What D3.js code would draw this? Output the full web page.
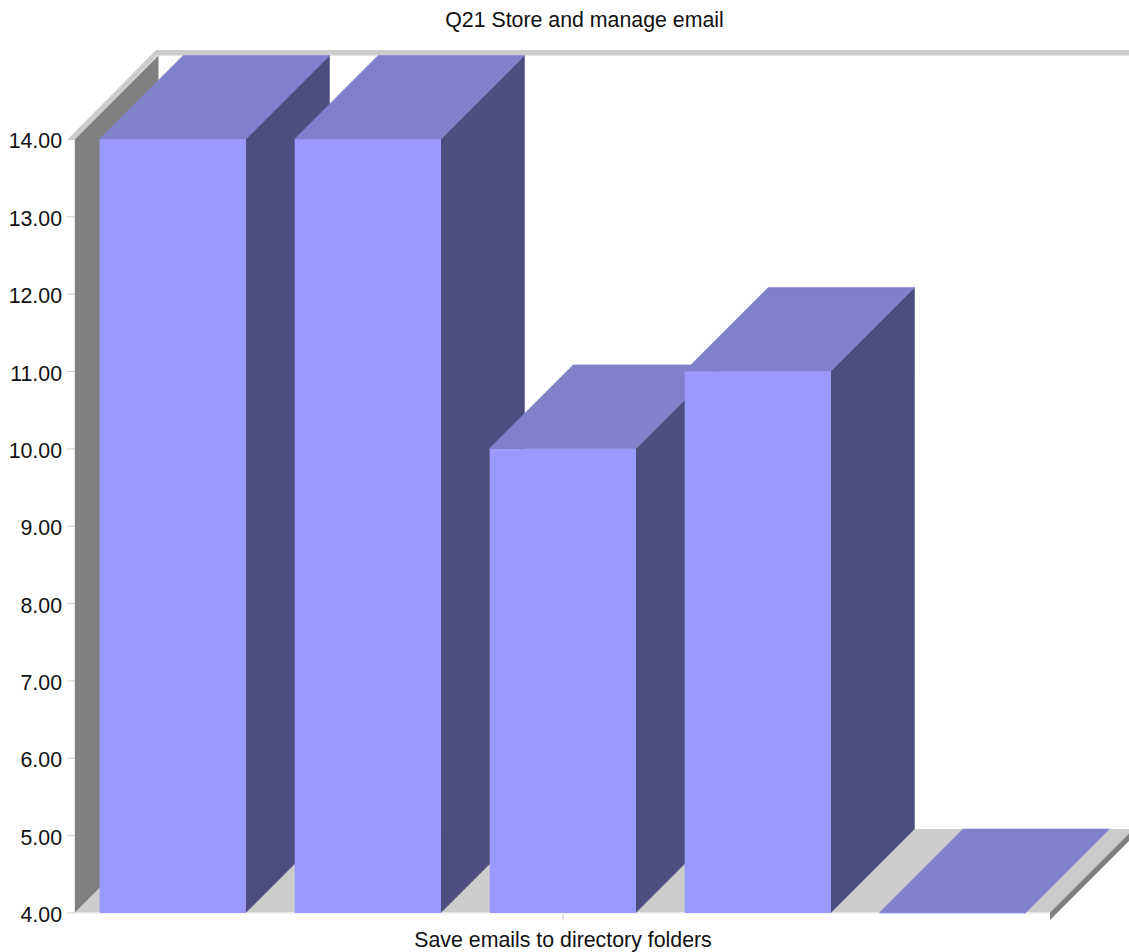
<!DOCTYPE html>
<html><head><meta charset="utf-8">
<script src="https://cdn.jsdelivr.net/npm/d3@7/dist/d3.min.js"></script>
<style>html,body{margin:0;padding:0;background:#fff;overflow:hidden}svg{display:block}text{font-family:"Liberation Sans",Arial,sans-serif}</style>
</head><body><script>
const title = "Q21 Store and manage email";
const category = "Save emails to directory folders";
const seriesNames = ["Series 1","Series 2","Series 3","Series 4","Series 5"];
const seriesValues = [14,14,10,11,4];
const yTicks = [4,5,6,7,8,9,10,11,12,13,14];

const W=1129,H=952,L=75,R=1050,T=139,B=912.5,D=83.5;
const svg=d3.select("body").append("svg").attr("width",W).attr("height",H);
const x=d3.scaleBand().domain(seriesNames).range([L,R]).paddingInner(0.25).paddingOuter(0.125);
const y=d3.scaleLinear().domain([4,14]).range([B,T]);
const poly=(pts,fill,stroke)=>svg.append("polygon").attr("points",pts.map(p=>p.join(",")).join(" ")).attr("fill",fill).attr("stroke",stroke||"none").attr("stroke-width",stroke?0.6:0);

svg.append("text").attr("x",584.5).attr("y",27).attr("text-anchor","middle").attr("font-size",21.33).attr("fill","#111").text(title);

// back rim
poly([[156,50],[W,50],[W,55.5],[158,55.5]],"#cccccc");
// floor
poly([[L,B],[R,B],[R+D,B-D],[L+D,B-D]],"#cccccc");
poly([[R,B],[R,920],[R+D,920-D],[R+D,B-D]],"#808080");
// left wall
poly([[L,T],[L+D,T-D],[L+D,B-D],[L,B]],"#808080");
// left rim
poly([[68,T],[156,50],[163,50],[L,T]],"#cccccc");
// axis frame
svg.append("line").attr("x1",L-0.5).attr("x2",L-0.5).attr("y1",T).attr("y2",B+0.5).attr("stroke","#e4e4e4");
svg.append("line").attr("x1",L).attr("x2",R).attr("y1",B+0.5).attr("y2",B+0.5).attr("stroke","#e8e8e8");

// bars
seriesNames.forEach((s,i)=>{
  const v=seriesValues[i],x0=x(s)+0.3,x1=x0+x.bandwidth(),yt=y(v);
  if(v>4){
    poly([[x1,yt],[x1+D,yt-D],[x1+D,B-D],[x1,B]],"#4d4d80","#4d4d80");
    svg.append("rect").attr("x",x0).attr("y",yt).attr("width",x.bandwidth()).attr("height",B-yt+0.5).attr("fill","#9999ff");
  } else {
    svg.append("line").attr("x1",x0).attr("x2",x1).attr("y1",B+0.5).attr("y2",B+0.5).attr("stroke","#9999ff");
  }
  poly([[x0,yt],[x1,yt],[x1+D,yt-D],[x0+D,yt-D]],"#8080cc","#8080cc");
});

// y axis
const gy=svg.append("g").attr("transform",`translate(${L},0)`).call(d3.axisLeft(y).tickValues(yTicks).tickFormat(d3.format(".2f")).tickSize(8).tickPadding(5));
gy.select(".domain").remove();
gy.selectAll(".tick line").attr("stroke","#cfd0b8");
gy.selectAll(".tick text").attr("font-size",21.33).attr("fill","#111").attr("dy","0.42em").attr("font-family","'Liberation Sans',Arial,sans-serif");
// x axis
const xc=d3.scalePoint().domain([category]).range([L,R]).padding(0.5);
const gx=svg.append("g").attr("transform",`translate(0,${B})`).call(d3.axisBottom(xc).tickSize(8).tickPadding(11));
gx.select(".domain").remove();
gx.selectAll(".tick line").attr("stroke","#cccccc");
gx.selectAll(".tick text").attr("font-size",21.33).attr("fill","#111").attr("font-family","'Liberation Sans',Arial,sans-serif");
</script></body></html>
